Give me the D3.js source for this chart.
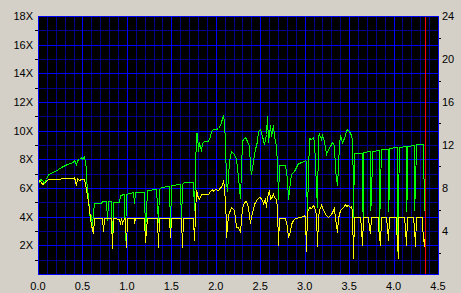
<!DOCTYPE html>
<html>
<head>
<meta charset="utf-8">
<script src="https://cdn.jsdelivr.net/npm/d3@7"></script>
<style>
  body { margin: 0; background: #d4d0c8; }
  svg { display: block; }
  text { font-family: "Liberation Sans", Arial, sans-serif; font-size: 11px; fill: #000; }
</style>
</head>
<body>
<div id="chart"></div>
<script>
// tick labels
const xTicks = [0, 0.5, 1, 1.5, 2, 2.5, 3, 3.5, 4, 4.5];
const xTickLabels = ["0.0", "0.5", "1.0", "1.5", "2.0", "2.5", "3.0", "3.5", "4.0", "4.5"];
const leftTicks = [2, 4, 6, 8, 10, 12, 14, 16, 18];
const leftTickLabels = ["2X", "4X", "6X", "8X", "10X", "12X", "14X", "16X", "18X"];
const rightTicks = [4, 8, 12, 16, 20, 24];
const rightTickLabels = ["4", "8", "12", "16", "20", "24"];

// position of the red marker
const markerPos = 4.352;

// green trace [position, speed X]
const greenPts = [
  [0.00,6.35],[0.02,6.6],[0.04,6.55],[0.07,6.35],[0.09,6.6],[0.11,7.0],[0.17,7.15],[0.22,7.35],
  [0.28,7.55],[0.33,7.7],[0.39,7.8],[0.41,7.95],[0.42,7.9],[0.43,7.6],[0.44,7.95],[0.46,8.0],
  [0.48,8.15],[0.50,8.05],[0.52,8.2],[0.535,7.4],[0.545,6.6],[0.56,5.4],[0.57,4.5],[0.59,3.8],
  [0.60,4.1],[0.61,3.4],[0.62,4.3],[0.635,4.95],[0.71,4.95],[0.72,5.1],[0.76,5.1],[0.775,3.8],
  [0.79,5.1],[0.82,5.1],[0.832,2.4],[0.845,5.0],[0.91,5.0],[0.925,5.5],[0.97,5.55],[0.983,2.4],
  [0.995,5.55],[1.07,5.7],[1.084,4.95],[1.095,5.7],[1.19,5.75],[1.208,2.9],[1.225,5.85],[1.33,5.9],
  [1.346,3.6],[1.36,5.9],[1.385,6.1],[1.475,6.15],[1.489,3.3],[1.50,6.2],[1.60,6.3],[1.613,3.5],
  [1.625,6.3],[1.64,6.45],[1.74,6.45],[1.755,4.5],[1.774,9.85],[1.79,9.85],[1.80,8.55],[1.815,9.2],
  [1.83,8.55],[1.84,9.15],[1.87,9.3],[1.91,9.3],[1.93,9.6],[1.95,9.95],[1.97,10.15],[2.00,10.1],
  [2.02,10.2],[2.05,10.4],[2.08,11.1],[2.09,10.6],[2.10,9.2],[2.11,6.45],[2.125,5.8],[2.15,7.85],
  [2.17,8.55],[2.20,8.4],[2.23,8.0],[2.25,6.8],[2.26,6.0],[2.27,5.3],[2.29,9.25],[2.31,9.45],
  [2.33,9.55],[2.35,9.3],[2.37,8.9],[2.39,7.5],[2.40,7.0],[2.42,7.85],[2.44,8.7],[2.46,9.3],
  [2.48,9.95],[2.50,10.15],[2.52,9.6],[2.54,9.1],[2.56,9.75],[2.575,11.0],[2.59,9.2],[2.605,10.4],
  [2.62,9.6],[2.64,10.4],[2.66,9.6],[2.675,8.9],[2.69,7.7],[2.70,5.2],[2.715,7.6],[2.78,7.6],
  [2.80,6.6],[2.81,5.2],[2.83,6.5],[2.85,7.0],[2.88,7.2],[2.92,7.73],[2.97,7.8],[3.00,7.96],
  [3.01,7.9],[3.02,6.45],[3.03,4.5],[3.045,9.5],[3.07,9.4],[3.09,9.55],[3.11,9.3],[3.125,6.1],
  [3.135,4.7],[3.15,9.6],[3.165,9.77],[3.18,9.45],[3.20,9.7],[3.22,9.3],[3.24,8.4],[3.26,8.75],
  [3.29,8.95],[3.31,9.2],[3.33,9.0],[3.345,7.3],[3.36,6.2],[3.37,7.5],[3.385,9.1],[3.40,9.7],
  [3.42,9.2],[3.44,9.5],[3.46,9.95],[3.48,10.15],[3.50,9.95],[3.52,9.7],[3.53,9.45],[3.54,5.9],
  [3.548,4.0],[3.556,8.45],[3.64,8.45],[3.642,4.4],[3.65,6.2],[3.655,4.0],[3.66,8.5],[3.73,8.55],
  [3.732,4.5],[3.742,6.8],[3.75,4.8],[3.757,8.6],[3.838,8.65],[3.84,3.0],[3.85,6.0],[3.856,8.7],
  [3.935,8.75],[3.937,4.4],[3.946,6.0],[3.952,8.8],[4.038,8.85],[4.04,1.6],[4.05,5.0],[4.056,8.85],
  [4.135,8.9],[4.137,4.4],[4.148,6.0],[4.152,8.95],[4.232,9.0],[4.234,4.5],[4.245,6.0],[4.252,9.05],
  [4.335,9.1],[4.337,4.5],[4.345,5.5]
];

// yellow trace [position, speed X]
const yellowPts = [
  [0.00,6.35],[0.015,6.55],[0.03,6.4],[0.05,6.3],[0.07,6.35],[0.09,6.5],[0.11,6.65],[0.40,6.7],
  [0.41,6.75],[0.43,6.2],[0.44,6.7],[0.46,6.55],[0.48,6.65],[0.52,6.65],[0.545,5.9],[0.56,5.0],
  [0.58,4.0],[0.595,3.45],[0.62,2.85],[0.635,3.9],[0.72,3.9],[0.73,3.0],[0.74,3.9],[0.82,3.9],
  [0.832,1.8],[0.845,3.9],[0.91,3.85],[0.92,3.5],[0.93,3.9],[0.95,3.55],[0.965,3.9],[0.975,3.9],
  [0.99,1.9],[1.005,3.9],[1.075,3.9],[1.085,3.55],[1.095,3.9],[1.195,3.9],[1.208,2.25],[1.225,3.9],
  [1.335,3.9],[1.346,1.85],[1.36,3.9],[1.475,3.9],[1.489,2.6],[1.50,3.9],[1.605,3.9],[1.62,1.9],
  [1.635,3.9],[1.74,3.9],[1.755,2.4],[1.78,5.85],[1.795,5.3],[1.81,5.2],[1.83,5.6],[1.87,5.55],
  [1.91,5.6],[1.94,5.8],[1.955,5.92],[1.97,5.8],[1.99,5.92],[2.02,5.85],[2.07,6.2],[2.085,6.55],
  [2.095,6.1],[2.11,3.65],[2.115,2.6],[2.135,4.1],[2.17,4.7],[2.21,4.5],[2.23,3.3],[2.25,3.3],
  [2.27,2.95],[2.29,4.6],[2.32,5.05],[2.34,5.1],[2.36,4.7],[2.38,3.55],[2.40,4.0],[2.43,4.9],
  [2.46,5.2],[2.49,5.4],[2.51,5.3],[2.53,4.95],[2.55,5.2],[2.57,4.7],[2.58,5.4],[2.595,5.87],
  [2.61,5.2],[2.625,5.3],[2.64,5.6],[2.66,5.4],[2.675,5.2],[2.685,4.7],[2.70,2.0],[2.715,3.9],
  [2.78,3.9],[2.80,3.3],[2.812,2.6],[2.83,3.0],[2.85,3.5],[2.87,3.75],[2.89,3.93],[2.96,3.95],
  [2.99,4.1],[3.00,3.95],[3.011,1.6],[3.025,4.3],[3.045,4.7],[3.07,4.6],[3.093,4.83],[3.11,4.7],
  [3.125,4.2],[3.138,1.95],[3.15,3.9],[3.16,4.5],[3.18,4.78],[3.20,4.7],[3.22,4.3],[3.24,4.1],
  [3.262,4.0],[3.28,4.1],[3.30,4.2],[3.33,4.6],[3.345,3.9],[3.36,2.9],[3.375,3.9],[3.40,4.5],
  [3.431,4.7],[3.45,4.9],[3.47,4.75],[3.49,4.8],[3.506,4.7],[3.52,4.75],[3.535,4.5],[3.543,1.1],
  [3.555,3.97],[3.625,3.97],[3.63,3.3],[3.647,2.04],[3.655,3.97],[3.715,3.97],[3.72,3.3],[3.737,2.86],
  [3.745,3.97],[3.825,3.97],[3.83,3.3],[3.846,2.04],[3.855,3.97],[3.92,3.97],[3.925,3.3],[3.94,2.4],
  [3.95,3.97],[4.025,3.97],[4.03,3.3],[4.046,1.1],[4.055,3.97],[4.12,3.97],[4.125,3.3],[4.142,2.04],
  [4.15,3.97],[4.22,3.97],[4.225,3.3],[4.24,1.92],[4.25,3.97],[4.32,3.97],[4.325,3.3],[4.342,1.92],
  [4.35,3.0]
];

const width = 461, height = 293;
const margin = { top: 16, right: 23, bottom: 19, left: 38 };

const svg = d3.select("#chart")
  .append("svg")
  .attr("width", width)
  .attr("height", height);

svg.append("rect")
  .attr("width", width)
  .attr("height", height)
  .attr("fill", "#d4d0c8");

const x = d3.scaleLinear()
  .domain([0, 4.5])
  .range([margin.left, width - margin.right]);

const y = d3.scaleLinear()
  .domain([0, 18])
  .range([height - margin.bottom, margin.top]);

const yRight = d3.scaleLinear()
  .domain([0, 24])
  .range([height - margin.bottom, margin.top]);

const px = v => Math.round(v) + 0.5;

// plot background
svg.append("rect")
  .attr("x", x(0))
  .attr("y", y(18))
  .attr("width", x(4.5) - x(0))
  .attr("height", y(0) - y(18))
  .attr("fill", "#000");

// grid
const grid = svg.append("g").attr("shape-rendering", "crispEdges");
const xGrid = d3.range(0, 46).map(i => i / 10);
const yGrid = d3.range(0, 19);

grid.selectAll(".vminor")
  .data(xGrid.filter((d, i) => i % 5 !== 0))
  .join("line")
  .attr("x1", d => px(x(d))).attr("x2", d => px(x(d)))
  .attr("y1", y(18)).attr("y2", y(0))
  .attr("stroke", "#00008c");

grid.selectAll(".hminor")
  .data(yGrid.filter(d => d % 2 !== 0))
  .join("line")
  .attr("x1", x(0)).attr("x2", x(4.5))
  .attr("y1", d => px(y(d))).attr("y2", d => px(y(d)))
  .attr("stroke", "#00008c");

const gMajor = svg.append("g").attr("shape-rendering", "crispEdges");
gMajor.selectAll(".vmajor")
  .data(xTicks)
  .join("line")
  .attr("x1", d => px(x(d))).attr("x2", d => px(x(d)))
  .attr("y1", y(18)).attr("y2", y(0))
  .attr("stroke", "#0000ff");

gMajor.selectAll(".hmajor")
  .data(yGrid.filter(d => d % 2 === 0))
  .join("line")
  .attr("x1", x(0)).attr("x2", x(4.5))
  .attr("y1", d => px(y(d))).attr("y2", d => px(y(d)))
  .attr("stroke", "#0000ff");

// traces, drawn as aliased 1px lines like the original screen capture
const line = d3.line()
  .x(d => px(x(d[0])))
  .y(d => px(y(d[1])));

svg.append("path")
  .datum(greenPts)
  .attr("d", line)
  .attr("fill", "none")
  .attr("stroke", "#00ff00")
  .attr("stroke-width", 1)
  .attr("shape-rendering", "crispEdges");

svg.append("path")
  .datum(yellowPts)
  .attr("d", line)
  .attr("fill", "none")
  .attr("stroke", "#ffff00")
  .attr("stroke-width", 1)
  .attr("shape-rendering", "crispEdges");

// red position marker
svg.append("line")
  .attr("x1", px(x(markerPos))).attr("x2", px(x(markerPos)))
  .attr("y1", y(18) + 1).attr("y2", y(0))
  .attr("stroke", "#ff0000")
  .attr("shape-rendering", "crispEdges");

// left axis: small ticks at odd values, labels at even
const axes = svg.append("g").attr("shape-rendering", "crispEdges");
axes.selectAll(".ltick")
  .data(d3.range(1, 18, 2))
  .join("line")
  .attr("x1", x(0) - 3).attr("x2", x(0))
  .attr("y1", d => px(y(d))).attr("y2", d => px(y(d)))
  .attr("stroke", "#000");

svg.selectAll(".llabel")
  .data(leftTicks)
  .join("text")
  .attr("x", x(0) - 5)
  .attr("y", d => y(d) + 4)
  .attr("text-anchor", "end")
  .text((d, i) => leftTickLabels[i]);

// right axis
axes.selectAll(".rtick")
  .data(d3.range(2, 24, 4))
  .join("line")
  .attr("x1", x(4.5)).attr("x2", x(4.5) + 3)
  .attr("y1", d => px(yRight(d))).attr("y2", d => px(yRight(d)))
  .attr("stroke", "#000");

svg.selectAll(".rlabel")
  .data(rightTicks)
  .join("text")
  .attr("x", x(4.5) + 4)
  .attr("y", d => yRight(d) + 4)
  .attr("text-anchor", "start")
  .text((d, i) => rightTickLabels[i]);

// bottom labels
svg.selectAll(".xlabel")
  .data(xTicks)
  .join("text")
  .attr("x", d => x(d))
  .attr("y", y(0) + 16)
  .attr("text-anchor", "middle")
  .text((d, i) => xTickLabels[i]);

// plot frame
svg.append("rect")
  .attr("x", px(x(0)))
  .attr("y", px(y(18)))
  .attr("width", Math.round(x(4.5)) - Math.round(x(0)))
  .attr("height", Math.round(y(0)) - Math.round(y(18)))
  .attr("fill", "none")
  .attr("stroke", "#0000ff")
  .attr("stroke-width", 1.5)
  .attr("shape-rendering", "crispEdges");
</script>
</body>
</html>
